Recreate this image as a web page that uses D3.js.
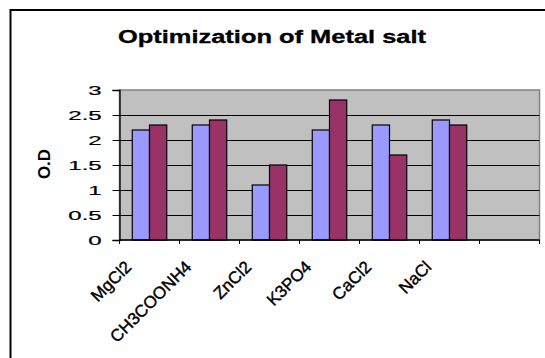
<!DOCTYPE html>
<html>
<head>
<meta charset="utf-8">
<script src="https://cdn.jsdelivr.net/npm/d3@7"></script>
<style>
  html, body { margin: 0; padding: 0; background: #fff; }
  svg { display: block; }
  text { font-family: "Liberation Sans", Arial, sans-serif; fill: #000; }
</style>
</head>
<body>
<svg id="chart" width="545" height="358"></svg>
<script>
// Metal salt screening: optical density for two replicate series
const categories = ["MgCl2", "CH3COONH4", "ZnCl2", "K3PO4", "CaCl2", "NaCl", ""];
const series1 = [2.2, 2.3, 1.1, 2.2, 2.3, 2.4];
const series2 = [2.3, 2.4, 1.5, 2.8, 1.7, 2.3];
const yTicks = [0, 0.5, 1, 1.5, 2, 2.5, 3];
const seriesNames = ["Series1", "Series2"];
const seriesColors = ["#9999FF", "#993366"];
const title = "Optimization of Metal salt";
const yTitle = "O.D";

const svg = d3.select("#chart");

// outer chart frame
svg.append("rect")
  .attr("x", 10.5).attr("y", 10)
  .attr("width", 540).attr("height", 360)
  .attr("fill", "#fff")
  .attr("stroke", "#000").attr("stroke-width", 2);

const plot = { left: 119.5, right: 539.5, top: 90, bottom: 240 };

const x = d3.scaleBand()
  .domain(categories.map((c, i) => i))
  .range([plot.left, plot.right])
  .paddingInner(0).paddingOuter(0);

const xs = d3.scaleBand()
  .domain(seriesNames)
  .range([0, x.bandwidth()])
  .paddingInner(0)
  .paddingOuter(0.74);

const y = d3.scaleLinear()
  .domain([0, 3])
  .range([plot.bottom, plot.top]);

// plot background
svg.append("rect")
  .attr("x", plot.left).attr("y", plot.top)
  .attr("width", plot.right - plot.left)
  .attr("height", plot.bottom - plot.top)
  .attr("fill", "#C0C0C0")
  .attr("stroke", "#808080").attr("stroke-width", 1.5);

// horizontal gridlines
svg.append("g")
  .selectAll("line")
  .data(yTicks.filter(t => t > 0 && t < 3))
  .join("line")
  .attr("x1", plot.left).attr("x2", plot.right)
  .attr("y1", d => Math.round(y(d)) + 0.5)
  .attr("y2", d => Math.round(y(d)) + 0.5)
  .attr("stroke", "#000").attr("stroke-width", 1);

// bars
const groups = svg.append("g")
  .selectAll("g")
  .data(series1.map((v, i) => ({ i, values: [series1[i], series2[i]] })))
  .join("g")
  .attr("transform", d => `translate(${x(d.i)},0)`);

groups.selectAll("rect")
  .data(d => d.values.map((v, k) => ({ v, k })))
  .join("rect")
  .attr("x", d => xs(seriesNames[d.k]))
  .attr("y", d => y(d.v))
  .attr("width", xs.bandwidth())
  .attr("height", d => y(0) - y(d.v))
  .attr("fill", d => seriesColors[d.k])
  .attr("stroke", "#000").attr("stroke-width", 1.2);

// y axis
const yAxis = d3.axisLeft(y)
  .tickValues(yTicks)
  .tickSize(7)
  .tickFormat(d3.format("~g"));
const gy = svg.append("g")
  .attr("transform", `translate(${plot.left},0)`)
  .call(yAxis);
gy.select(".domain").attr("stroke", "#000").attr("stroke-width", 1.3);
gy.selectAll(".tick line").attr("stroke", "#000");
gy.selectAll(".tick text")
  .attr("x", 0).attr("dy", null)
  .attr("dominant-baseline", "central")
  .attr("text-anchor", "end")
  .attr("font-size", 12)
  .attr("stroke", "#000").attr("stroke-width", 0.2)
  .attr("transform", "translate(-17.8,0.5) scale(2,1)");

// x axis: ticks on category boundaries
const gx = svg.append("g");
gx.append("line")
  .attr("x1", plot.left).attr("x2", plot.right)
  .attr("y1", plot.bottom).attr("y2", plot.bottom)
  .attr("stroke", "#000").attr("stroke-width", 1.3);
const boundaries = categories.map((c, i) => x(i)).concat([plot.right]);
gx.selectAll("line.tick")
  .data(boundaries)
  .join("line")
  .attr("class", "tick")
  .attr("x1", d => d).attr("x2", d => d)
  .attr("y1", plot.bottom).attr("y2", plot.bottom + 4)
  .attr("stroke", "#000").attr("stroke-width", 1);

gx.selectAll("text")
  .data(categories.map((c, i) => ({ c, i })).filter(d => d.c))
  .join("text")
  .attr("text-anchor", "end")
  .attr("font-size", 17)
  .attr("stroke", "#000").attr("stroke-width", 0.4)
  .attr("transform", d => `translate(${x(d.i) + x.bandwidth() / 2 - 17},268) rotate(-45)`)
  .text(d => d.c);

// titles
svg.append("text")
  .attr("x", 272).attr("y", 43)
  .attr("text-anchor", "middle")
  .attr("font-size", 17.5).attr("font-weight", "bold")
  .attr("stroke", "#000").attr("stroke-width", 0.3)
  .attr("textLength", 308).attr("lengthAdjust", "spacingAndGlyphs")
  .text(title);

svg.append("text")
  .attr("transform", `translate(50,164) rotate(-90)`)
  .attr("text-anchor", "middle")
  .attr("font-size", 16).attr("font-weight", "bold")
  .attr("textLength", 30).attr("lengthAdjust", "spacingAndGlyphs")
  .text(yTitle);
</script>
</body>
</html>
